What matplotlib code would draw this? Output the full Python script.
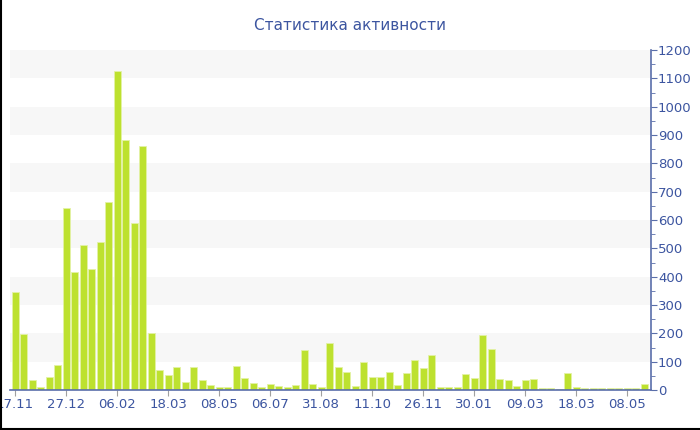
import matplotlib
matplotlib.use("Agg")
from matplotlib import pyplot as plt
from matplotlib.ticker import MultipleLocator
from matplotlib.lines import Line2D

# messages per period
messages = [345, 198, 37, 10, 46, 89, 643, 416, 512, 427,
            522, 664, 1126, 882, 590, 860, 201, 70, 52, 81,
            27, 81, 37, 17, 10, 12, 83, 42, 23, 12,
            20, 14, 11, 17, 142, 20, 10, 165, 80, 64,
            13, 100, 46, 46, 63, 19, 59, 106, 77, 124,
            12, 10, 12, 56, 41, 195, 144, 39, 37, 14,
            35, 40, 8, 8, 5, 60, 12, 7, 6, 7,
            8, 7, 6, 6, 22]
tick_labels = ["17.11", "27.12", "06.02", "18.03", "08.05", "06.07", "31.08",
               "11.10", "26.11", "30.01", "09.03", "18.03", "08.05"]
tick_step = 6

title = "Статистика активности"
ylabel = "Сообщения"

text_col = "#3c55a0"
axis_col = "#5a6eaa"

plt.rcParams['font.family'] = ['DejaVu Sans']

fig = plt.figure(figsize=(7, 4.3), dpi=100)
ax = fig.add_axes([10/700, 40/430, 641/700, 340/430])

# alternating bands
for lo in range(100, 1200, 200):
    ax.axhspan(lo, lo + 100, color="#f7f7f7", zorder=0, lw=0)

x = list(range(len(messages)))
ax.bar(x, messages, width=0.8, color="#bde12f", edgecolor="#e3f2a6",
       linewidth=0.6, zorder=2)

ax.set_xlim(-0.6, 74.8)
ax.set_ylim(0, 1200)

ax.set_xticks([i * tick_step for i in range(len(tick_labels))])
ax.set_xticklabels(tick_labels)
ax.yaxis.set_major_locator(MultipleLocator(100))
ax.yaxis.set_minor_locator(MultipleLocator(50))
ax.yaxis.tick_right()
ax.yaxis.set_label_position("right")

for s in ["left", "top"]:
    ax.spines[s].set_visible(False)
for s in ["right", "bottom"]:
    ax.spines[s].set_color(axis_col)
    ax.spines[s].set_linewidth(1.2)

ax.tick_params(axis="x", colors="#a0a0a0", labelcolor=text_col, length=4,
               labelsize=9.5, pad=2)
ax.tick_params(axis="y", which="major", colors=axis_col, labelcolor=text_col,
               length=4, labelsize=9.5, pad=1)
ax.tick_params(axis="y", which="minor", colors=axis_col, length=3)

ax.set_ylabel(ylabel, color=text_col, fontsize=9.5, rotation=270,
              labelpad=10, va="bottom")

fig.text(0.5, 1 - 25/430, title, ha="center", va="center",
         color=text_col, fontsize=11)

# frame on left and bottom of image
fig.add_artist(Line2D([0.7/700, 0.7/700], [0, 1], color="black", lw=1.5,
                      transform=fig.transFigure))
fig.add_artist(Line2D([0, 1], [0.7/430, 0.7/430], color="black", lw=1.5,
                      transform=fig.transFigure))

fig.savefig("out.png", dpi=100)
